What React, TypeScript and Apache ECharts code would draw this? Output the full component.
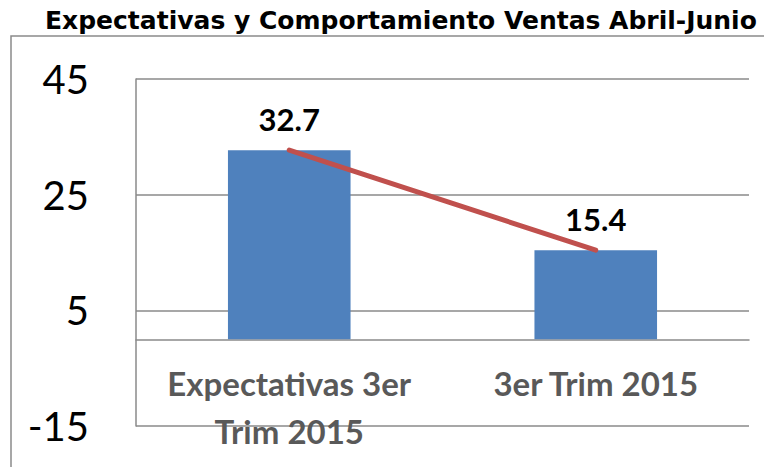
import React, { useEffect, useRef } from "react";
import * as echarts from "echarts";

const titleText = "Expectativas y Comportamiento Ventas Abril-Junio";
const categories = ["Expectativas 3er\nTrim 2015", "3er Trim 2015"];
const barValues = [32.7, 15.4];
const lineValues = [32.7, 15.4];
const yMin = -15;
const yMax = 45;
const yStep = 20;

export default function App() {
  const ref = useRef<HTMLDivElement>(null);
  useEffect(() => {
    if (!ref.current) return;
    const chart = echarts.init(ref.current, null, { renderer: "svg" });
    const gray = "#8a8a8a";
    chart.setOption({
      animation: false,
      backgroundColor: "#ffffff",
      title: {
        text: titleText,
        left: 40,
        top: 3,
        textStyle: {
          fontFamily: "DejaVu Sans",
          fontWeight: "bold",
          fontSize: 25,
          color: "#000000",
        },
      },
      graphic: [
        {
          type: "rect",
          shape: { x: 11, y: 36, width: 800, height: 500 },
          style: { fill: "none", stroke: gray, lineWidth: 1.5 },
          silent: true,
        },
      ],
      grid: {
        left: 136,
        right: 15,
        top: 79,
        bottom: 41,
        containLabel: false,
        outerBoundsMode: "none",
      },
      xAxis: {
        type: "category",
        data: categories,
        axisTick: { show: false },
        axisLine: { show: true, onZero: true, lineStyle: { color: gray, width: 1.5 } },
        axisLabel: {
          fontFamily: "Lato",
          fontWeight: "bold",
          fontSize: 33,
          lineHeight: 48,
          color: "#595959",
          margin: -67,
          interval: 0,
        },
      },
      yAxis: {
        type: "value",
        min: yMin,
        max: yMax,
        interval: yStep,
        axisLine: { show: true, lineStyle: { color: gray, width: 1.5 } },
        axisTick: { show: false },
        splitLine: { show: true, lineStyle: { color: gray, width: 1.5 } },
        axisLabel: {
          fontFamily: "Lato",
          fontSize: 40,
          color: "#000000",
          margin: 47,
        },
      },
      series: [
        {
          type: "bar",
          data: barValues,
          barWidth: "40%",
          itemStyle: { color: "#4F81BD" },
          label: {
            show: true,
            position: "top",
            distance: 16,
            fontFamily: "Lato",
            fontWeight: "bold",
            fontSize: 31,
            color: "#000000",
          },
        },
        {
          type: "line",
          data: lineValues,
          symbol: "none",
          lineStyle: { color: "#C0504D", width: 5, cap: "round" },
          z: 5,
        },
      ],
    });
    return () => chart.dispose();
  }, []);
  return (
    <div
      ref={ref}
      style={{ position: "absolute", left: 0, top: 0, width: 764, height: 467 }}
    />
  );
}
